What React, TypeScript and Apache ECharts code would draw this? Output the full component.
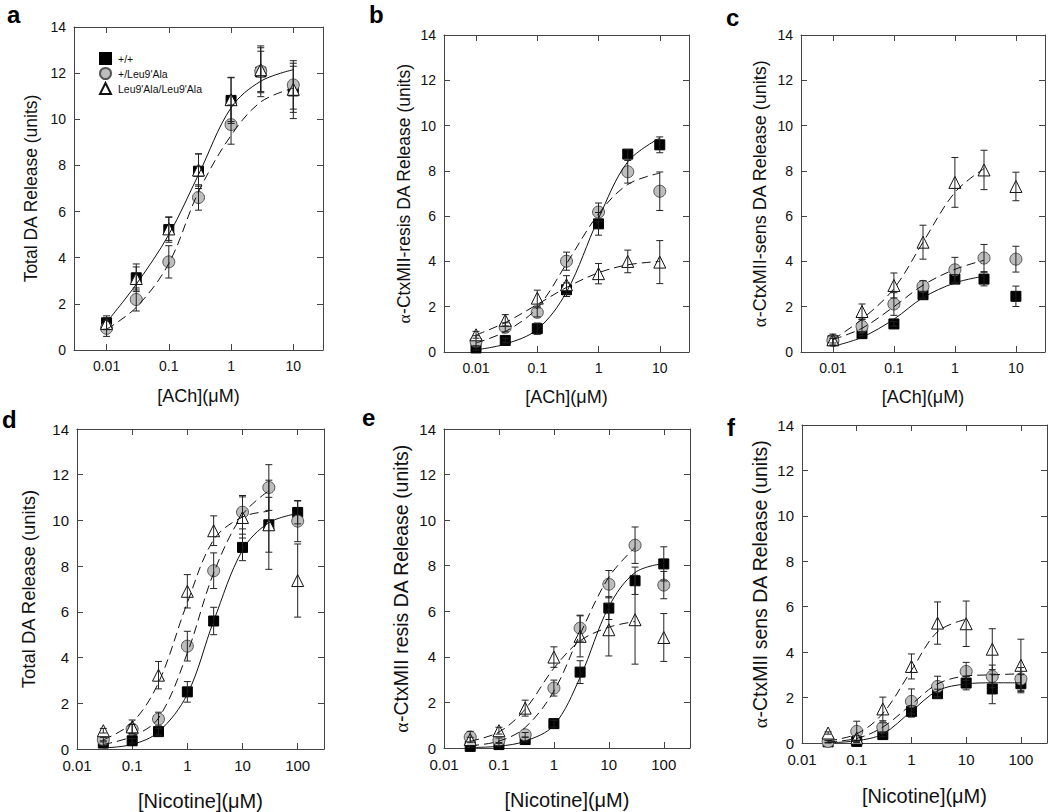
import React, { useEffect, useRef } from "react";
import * as echarts from "echarts";

// ---------- data ----------
const ACH = [0.01, 0.03, 0.1, 0.3, 1, 3, 10];
const NIC = [0.03, 0.1, 0.3, 1, 3, 10, 30, 100];
const GENOTYPES = ["+/+", "+/Leu9'Ala", "Leu9'Ala/Leu9'Ala"];
const DECADE_LABELS: Record<number, string> = { [-2]: "0.01", [-1]: "0.1", 0: "1", 1: "10", 2: "100" };

// panel a : total DA release, ACh
const aWT = [1.18, 3.13, 5.22, 7.75, 10.82, 12.05, 11.23];
const aWTErr = [0.3, 0.6, 0.55, 0.75, 1.0, 0.9, 1.2];
const aHet = [0.94, 2.19, 3.82, 6.61, 9.77, 12.08, 11.49];
const aHetErr = [0.35, 0.5, 0.7, 0.55, 0.85, 1.1, 1.05];
const aHom = [1.15, 3.1, 5.25, 7.8, 10.85, 12.15, 11.3];
const aHomErr = [0.25, 0.5, 0.5, 0.7, 0.95, 0.95, 1.0];
const aFitWT = [1.2, 2.85, 5.0, 7.6, 10.5, 11.65, 12.15];
const aFitHet = [0.9, 1.85, 3.75, 6.85, 9.3, 10.75, 11.35];

// panel b : CtxMII-resistant, ACh
const bWT = [0.18, 0.51, 1.03, 2.75, 5.66, 8.74, 9.15];
const bWTErr = [0.1, 0.1, 0.25, 0.3, 0.5, 0.2, 0.35];
const bHet = [0.47, 1.09, 1.75, 4.01, 6.18, 7.96, 7.1];
const bHetErr = [0.25, 0.2, 0.2, 0.4, 0.4, 0.5, 0.85];
const bHom = [0.76, 1.4, 2.38, 2.97, 3.46, 4.0, 3.97];
const bHomErr = [0.15, 0.25, 0.35, 0.4, 0.45, 0.5, 0.95];
const bFitWT = [0.1, 0.35, 1.0, 2.65, 5.9, 8.4, 9.45];
const bFitHet = [0.4, 0.9, 1.95, 3.9, 6.1, 7.4, 7.9];
const bFitHom = [0.75, 1.3, 2.1, 2.85, 3.5, 3.85, 4.0];

// panel c : CtxMII-sensitive, ACh
const cWT = [0.5, 0.81, 1.24, 2.53, 3.22, 3.22, 2.46];
const cWTErr = [0.1, 0.1, 0.1, 0.15, 0.2, 0.3, 0.45];
const cHet = [0.51, 1.13, 2.12, 2.9, 3.63, 4.15, 4.1];
const cHetErr = [0.2, 0.3, 0.5, 0.25, 0.55, 0.6, 0.57];
const cHom = [0.54, 1.79, 2.94, 4.85, 7.49, 8.04, 7.31];
const cHomErr = [0.25, 0.33, 0.55, 0.75, 1.1, 0.87, 0.63];
const cFitWT = [0.25, 0.65, 1.45, 2.4, 3.05, 3.35];
const cFitHet = [0.55, 1.05, 2.0, 2.95, 3.65, 4.05];
const cFitHom = [0.55, 1.45, 2.8, 4.85, 7.05, 8.1];

// panel d : total DA release, nicotine
const dWT = [0.26, 0.36, 0.76, 2.5, 5.6, 8.82, 9.81, 10.35];
const dWTErr = [0.1, 0.1, 0.15, 0.45, 0.6, 0.58, 1.2, 0.5];
const dHet = [0.41, 0.87, 1.31, 4.5, 7.8, 10.36, 11.44, 9.97];
const dHetErr = [0.1, 0.2, 0.3, 0.65, 0.78, 0.73, 1.0, 0.9];
const dHom = [0.8, 0.97, 3.23, 6.9, 9.55, 10.13, 9.81, 7.37];
const dHomErr = [0.1, 0.3, 0.6, 0.73, 0.65, 0.9, 1.95, 1.6];
const dFitWT = [0.05, 0.2, 0.75, 2.4, 5.6, 8.7, 9.9, 10.3];
const dFitHet = [0.2, 0.55, 1.35, 4.2, 7.7, 10.25, 11.3];
const dFitHom = [0.4, 1.15, 2.9, 6.4, 9.15, 10.15, 10.4];

// panel e : CtxMII-resistant, nicotine
const eWT = [0.07, 0.15, 0.37, 1.07, 3.33, 6.14, 7.34, 8.08];
const eWTErr = [0.05, 0.05, 0.1, 0.15, 0.5, 0.5, 0.6, 0.75];
const eHet = [0.48, 0.34, 0.58, 2.63, 5.26, 7.19, 8.9, 7.15];
const eHetErr = [0.25, 0.1, 0.1, 0.35, 0.57, 0.6, 0.8, 0.6];
const eHom = [0.37, 0.76, 1.75, 3.99, 4.9, 5.19, 5.63, 4.85];
const eHomErr = [0.1, 0.15, 0.35, 0.45, 0.9, 1.15, 1.95, 1.05];
const eFitWT = [0.02, 0.08, 0.3, 1.0, 3.1, 6.2, 7.7, 8.1];
const eFitHet = [0.1, 0.3, 0.9, 2.5, 5.0, 7.5, 8.8];
const eFitHom = [0.3, 0.7, 1.7, 3.5, 4.7, 5.3, 5.55];

// panel f : CtxMII-sensitive, nicotine
const fWT = [0.05, 0.07, 0.37, 1.39, 2.17, 2.64, 2.38, 2.61];
const fWTErr = [0.05, 0.05, 0.1, 0.25, 0.2, 0.3, 0.65, 0.4];
const fHet = [0.07, 0.51, 0.69, 1.83, 2.49, 3.15, 2.93, 2.82];
const fHetErr = [0.05, 0.45, 0.2, 0.55, 0.45, 0.4, 0.5, 0.5];
const fHom = [0.44, 0.22, 1.5, 3.37, 5.28, 5.25, 4.13, 3.42];
const fHomErr = [0.05, 0.1, 0.52, 0.55, 0.93, 1.0, 0.9, 1.15];
const fFitWT = [0.01, 0.1, 0.4, 1.4, 2.3, 2.6, 2.65, 2.65];
const fFitHet = [0.05, 0.2, 0.7, 1.7, 2.6, 2.95, 3.0, 3.05];
const fFitHom = [0.1, 0.4, 1.3, 3.2, 4.9, 5.45];

const PANELS = [
  { letter: "a", x: ACH, xRange: [0.003, 30], xName: "[ACh](\u03bcM)", yName: "Total DA Release (units)",
    means: [aWT, aHet, aHom], errs: [aWTErr, aHetErr, aHomErr], fits: [aFitWT, aFitHet, null] },
  { letter: "b", x: ACH, xRange: [0.003, 30], xName: "[ACh](\u03bcM)", yName: "{al|\u03b1}-CtxMII-resis DA Release (units)",
    means: [bWT, bHet, bHom], errs: [bWTErr, bHetErr, bHomErr], fits: [bFitWT, bFitHet, bFitHom] },
  { letter: "c", x: ACH, xRange: [0.003, 30], xName: "[ACh](\u03bcM)", yName: "{al|\u03b1}-CtxMII-sens DA Release (units)",
    means: [cWT, cHet, cHom], errs: [cWTErr, cHetErr, cHomErr], fits: [cFitWT, cFitHet, cFitHom] },
  { letter: "d", x: NIC, xRange: [0.01, 300], xName: "[Nicotine](\u03bcM)", yName: "Total DA Release (units)",
    means: [dWT, dHet, dHom], errs: [dWTErr, dHetErr, dHomErr], fits: [dFitWT, dFitHet, dFitHom] },
  { letter: "e", x: NIC, xRange: [0.01, 300], xName: "[Nicotine](\u03bcM)", yName: "{al|\u03b1}-CtxMII resis DA Release (units)",
    means: [eWT, eHet, eHom], errs: [eWTErr, eHetErr, eHomErr], fits: [eFitWT, eFitHet, eFitHom] },
  { letter: "f", x: NIC, xRange: [0.01, 300], xName: "[Nicotine](\u03bcM)", yName: "{al|\u03b1}-CtxMII sens DA Release (units)",
    means: [fWT, fHet, fHom], errs: [fWTErr, fHetErr, fHomErr], fits: [fFitWT, fFitHet, fFitHom] },
];

// ---------- layout / style ----------
const FONT = "'Liberation Sans', Arial, sans-serif";
const AXIS = "#444";
const INK = "#111";
const LAYOUT = [
  { left: 74, top: 27, width: 249, height: 323, yGap: 34, xGap: 37, yFont: 17.5, xFont: 18, tick: 14, lx: 7, ly: 22 },
  { left: 444, top: 35, width: 245, height: 317, yGap: 31, xGap: 36, yFont: 17.5, xFont: 18, tick: 14, lx: 369, ly: 22 },
  { left: 801, top: 35, width: 244, height: 317, yGap: 32, xGap: 36, yFont: 18, xFont: 18, tick: 14, lx: 726, ly: 25 },
  { left: 77, top: 429, width: 247, height: 321, yGap: 39, xGap: 42, yFont: 18.5, xFont: 20, tick: 15, lx: 2, ly: 427 },
  { left: 444, top: 429, width: 246, height: 319, yGap: 33, xGap: 42, yFont: 19.5, xFont: 20, tick: 15, lx: 362, ly: 425 },
  { left: 802, top: 425, width: 246, height: 318, yGap: 32, xGap: 43, yFont: 19.5, xFont: 20, tick: 15, lx: 727, ly: 435 },
];
const MARKERS = [
  { symbol: "rect", symbolSize: 10, itemStyle: { color: "#000", borderColor: "#000", borderWidth: 1, opacity: 1 } },
  { symbol: "circle", symbolSize: 12, itemStyle: { color: "#bdbdbd", borderColor: "#555", borderWidth: 1, opacity: 1 } },
  { symbol: "triangle", symbolSize: 12, itemStyle: { color: "#fff", borderColor: "#111", borderWidth: 1, opacity: 1 } },
];

const logLabel = (v: number) => {
  const l = Math.log10(v);
  const r = Math.round(l);
  return Math.abs(l - r) < 1e-6 && DECADE_LABELS[r] !== undefined ? DECADE_LABELS[r] : "";
};

function buildOption() {
  const grid: any[] = [];
  const xAxis: any[] = [];
  const yAxis: any[] = [];
  const series: any[] = [];
  const graphic: any[] = [];

  PANELS.forEach((p, i) => {
    const L = LAYOUT[i];
    grid.push({ left: L.left, top: L.top, width: L.width, height: L.height });
    const tickStyle = { show: true, inside: true, length: 6, lineStyle: { color: AXIS, width: 1 } };
    const lineStyle = { show: true, onZero: false, lineStyle: { color: AXIS, width: 1 } };
    const baseX = {
      type: "log", logBase: 10, gridIndex: i, min: p.xRange[0], max: p.xRange[1],
      splitLine: { show: false }, minorTick: { show: false }, axisLine: lineStyle, axisTick: tickStyle,
    };
    xAxis.push({
      ...baseX, position: "bottom", name: p.xName, nameLocation: "middle", nameGap: L.xGap,
      nameTextStyle: { fontFamily: FONT, fontSize: L.xFont, color: INK },
      axisLabel: { formatter: logLabel, fontFamily: FONT, fontSize: L.tick, color: INK, margin: 9 },
    });
    xAxis.push({ ...baseX, position: "top", axisLabel: { show: false } });
    const baseY = {
      type: "value", gridIndex: i, min: 0, max: 14, interval: 2,
      splitLine: { show: false }, axisLine: lineStyle, axisTick: tickStyle,
    };
    yAxis.push({
      ...baseY, position: "left", name: p.yName, nameLocation: "middle", nameGap: L.yGap,
      nameTextStyle: {
        fontFamily: FONT, fontSize: L.yFont, color: INK,
        rich: { al: { fontFamily: "'Liberation Serif', 'DejaVu Serif', serif", fontSize: L.yFont, color: INK } },
      },
      axisLabel: { fontFamily: FONT, fontSize: L.tick, color: INK, margin: 8 },
    });
    yAxis.push({ ...baseY, position: "right", axisLabel: { show: false } });

    const xi = 2 * i;
    // markers
    p.means.forEach((m, g) => {
      series.push({
        type: "scatter", name: GENOTYPES[g], xAxisIndex: xi, yAxisIndex: xi,
        data: p.x.map((x, k) => [x, m[k]]), ...MARKERS[g], z: 2, silent: true,
      });
    });
    // error bars
    p.means.forEach((m, g) => {
      const e = p.errs[g];
      series.push({
        type: "custom", name: "err" + i + g, xAxisIndex: xi, yAxisIndex: xi, z: 3, silent: true,
        encode: { x: 0, y: [1, 2] },
        data: p.x.map((x, k) => [x, m[k] - e[k], m[k] + e[k]]),
        renderItem: (_params: any, api: any) => {
          const x = api.value(0);
          const lo = api.coord([x, api.value(1)]);
          const hi = api.coord([x, api.value(2)]);
          const w = 3.5;
          const st = { stroke: "#222", lineWidth: 1 };
          return {
            type: "group",
            children: [
              { type: "line", shape: { x1: hi[0], y1: hi[1], x2: lo[0], y2: lo[1] }, style: st },
              { type: "line", shape: { x1: hi[0] - w, y1: hi[1], x2: hi[0] + w, y2: hi[1] }, style: st },
              { type: "line", shape: { x1: lo[0] - w, y1: lo[1], x2: lo[0] + w, y2: lo[1] }, style: st },
            ],
          };
        },
      });
    });
    // fitted curves
    p.fits.forEach((f, g) => {
      if (!f) return;
      series.push({
        type: "line", name: "fit" + i + g, xAxisIndex: xi, yAxisIndex: xi, z: 4, silent: true,
        data: p.x.slice(0, f.length).map((x, k) => [x, f[k]]),
        smooth: 0.35, symbol: "none", showSymbol: false,
        lineStyle: { color: INK, width: 1, type: g === 0 ? "solid" : [9, 5] },
      });
    });

    graphic.push({
      type: "text", x: L.lx, y: L.ly - 8,
      style: { text: p.letter, font: `bold 24px ${FONT}`, fill: "#000", verticalAlign: "middle" },
    });
  });

  return {
    animation: false,
    backgroundColor: "#fff",
    grid, xAxis, yAxis, series, graphic,
    legend: {
      data: GENOTYPES, orient: "vertical", left: 99, top: 52, itemGap: 2, itemWidth: 11, itemHeight: 11,
      selectedMode: false, padding: 0,
      textStyle: { fontFamily: FONT, fontSize: 10.5, color: INK, padding: [0, 0, 0, 2] },
    },
  };
}

export default function App() {
  const ref = useRef<HTMLDivElement>(null);
  useEffect(() => {
    if (!ref.current) return;
    const chart = echarts.init(ref.current, undefined, { renderer: "svg" });
    chart.setOption(buildOption() as any);
    return () => chart.dispose();
  }, []);
  return (
    <div
      ref={ref}
      style={{ position: "fixed", left: 0, top: 0, width: 1050, height: 812, background: "#fff" }}
    />
  );
}
